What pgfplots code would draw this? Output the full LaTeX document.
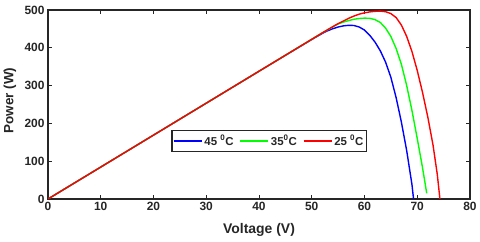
\documentclass[border=0pt]{standalone}
\usepackage{pgfplots}
\pgfplotsset{compat=1.18}
\usepackage{fontspec}
\setmainfont{Liberation Sans}
\definecolor{axc}{RGB}{38,38,38}
\begin{document}
\begin{tikzpicture}
\path[use as bounding box] (-48bp,-43bp) rectangle (432bp,199bp);
\begin{axis}[
  at={(0,0)}, anchor=south west,
  scale only axis, width=422bp, height=189bp,
  xmin=0, xmax=80, ymin=0, ymax=500,
  xtick={0,10,...,80}, ytick={0,100,...,500},
  tick align=inside, major tick length=4bp,
  axis line style={axc, line width=1.2pt},
  every tick/.style={axc, line width=0.8pt},
  xticklabel={\pgfmathprintnumber[assume math mode=true]{\tick}},
  yticklabel={\pgfmathprintnumber[assume math mode=true]{\tick}},
  tick label style={font=\fontsize{12}{14}\selectfont\bfseries, text=axc},
  xlabel={Voltage (V)}, ylabel={Power (W)},
  every axis x label/.style={at={(axis description cs:0.5,0)}, yshift=-31bp, anchor=center,
    font=\fontsize{14}{16}\selectfont\bfseries, text=axc},
  every axis y label/.style={at={(axis description cs:0,0.5)}, xshift=-38bp, yshift=4bp, rotate=90, anchor=center,
    font=\fontsize{13.5}{15}\selectfont\bfseries, text=axc},
  legend style={at={(axis cs:23.4,182)}, anchor=north west, legend columns=3,
    draw=axc, line width=1.2pt, font=\fontsize{11.5}{13}\selectfont\bfseries, text=axc,
    inner xsep=1pt, inner ysep=2.5pt, /tikz/every even column/.append style={column sep=4bp}},
  legend image code/.code={\draw[#1, line width=1.4pt] (0bp,0bp) -- (28bp,0bp);},
]
\addplot[blue, line width=1.4pt] coordinates {
(0,0) (10,84.5) (20,169) (30,253.5) (40,338) (50,422) (52,438) (53,445) (54,450.5) (55,455) (56,458) (57,459.5) (58,459) (59,455) (60,447) (61,433) (62,415) (63,392) (64,362) (65,322) (66,268) (67,203) (68,128) (69,38) (69.3,0)
};
\addlegendentry{45 \textsuperscript{0}C}
\addplot[green, line width=1.4pt] coordinates {
(0,0) (10,84.5) (20,169) (30,253.5) (40,338) (50,422.5) (52,439.5) (54,455.5) (55,463) (56,468) (57,472) (58,475.5) (59,477.5) (60,478.5) (61,478) (62,474.5) (63,467) (64,452) (65,430) (66,398) (67,356) (68,300) (69,234) (70,160) (71,83) (71.8,15)
};
\addlegendentry{35\textsuperscript{0}C}
\addplot[red, line width=1.4pt] coordinates {
(0,0) (10,84.5) (20,169) (30,253.5) (40,338) (50,422.5) (52,439.5) (54,456) (55,464) (56,471) (57,478) (58,484) (59,489) (60,492.5) (61,495) (62,496.5) (63,497) (64,495.5) (65,490.5) (66,480) (67,460) (68,430) (69,390) (70,340) (71,282) (72,217) (73,142) (73.8,65) (74.3,0)
};
\addlegendentry{25 \textsuperscript{0}C}
\end{axis}
\end{tikzpicture}
\end{document}
